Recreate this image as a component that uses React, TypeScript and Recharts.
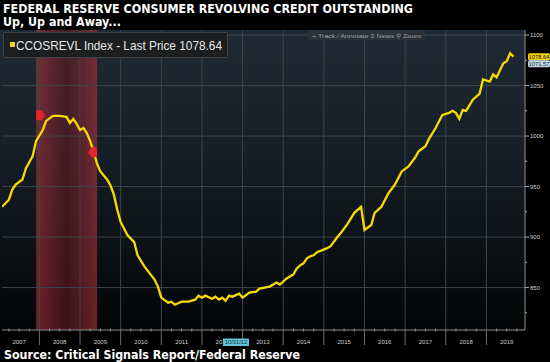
import React from 'react';
import { ComposedChart, Line, XAxis, YAxis, ReferenceLine, ReferenceArea, ReferenceDot } from 'recharts';

// monthly readings (USD bn)
const dates = [
  '2007-02', '2007-04', '2007-05', '2007-06', '2007-08', '2007-09', '2007-11', '2007-12',
  '2008-02', '2008-03', '2008-05', '2008-07', '2008-09', '2008-10', '2008-11', '2008-12',
  '2009-01', '2009-02', '2009-03', '2009-04', '2009-05', '2009-06', '2009-07', '2009-09',
  '2009-10', '2009-11', '2009-12', '2010-01', '2010-03', '2010-05', '2010-06', '2010-08',
  '2010-11', '2010-12', '2011-01', '2011-03', '2011-04', '2011-05', '2011-07', '2011-09',
  '2011-11', '2011-12', '2012-01', '2012-02', '2012-04', '2012-05', '2012-06', '2012-07',
  '2012-08', '2012-09', '2012-10', '2012-12', '2013-01', '2013-03', '2013-05', '2013-06',
  '2013-09', '2013-11', '2013-12', '2014-02', '2014-04', '2014-05', '2014-06', '2014-07',
  '2014-08', '2014-09', '2014-10', '2014-11', '2015-02', '2015-03', '2015-05', '2015-06',
  '2015-08', '2015-10', '2015-12', '2016-01', '2016-03', '2016-04', '2016-06', '2016-08',
  '2016-10', '2016-12', '2017-02', '2017-04', '2017-05', '2017-07', '2017-08', '2017-10',
  '2017-12', '2018-02', '2018-03', '2018-04', '2018-05', '2018-06', '2018-07', '2018-09',
  '2018-11', '2018-12', '2019-02', '2019-03', '2019-04', '2019-06', '2019-07', '2019-08',
  '2019-09',
];
const values = [
  930, 937, 947, 952, 957, 968, 980, 995,
  1006, 1015, 1020, 1020, 1019, 1013, 1017, 1012,
  1006, 1008, 1003, 995, 985, 973, 965, 957,
  951, 942, 927, 915, 902, 895, 882, 871,
  858, 851, 840, 835, 836, 833, 836, 836,
  838, 842, 840, 842, 839, 841, 838, 840,
  837, 842, 841, 844, 840, 845, 846, 849,
  851, 855, 853, 859, 863, 869, 872, 874,
  879, 881, 882, 885, 889, 891, 900, 904,
  913, 924, 930, 907, 912, 924, 930, 943,
  952, 965, 970, 979, 985, 990, 997, 1008,
  1021, 1023, 1025, 1023, 1017, 1026, 1025, 1036,
  1042, 1056, 1054, 1061, 1058, 1072, 1074, 1082,
  1078.64,
];

const years = [2007, 2008, 2009, 2010, 2011, 2012, 2013, 2014, 2015, 2016, 2017, 2018, 2019];
const yMajor = [850, 900, 950, 1000, 1050, 1100];
const yMinor = [825, 875, 925, 975, 1025, 1075];
const recession = [2007.92, 2009.42];
const recessionMarks = [1020.5, 984];
const lastPrice = 1078.64;
const movingAvg = 1071.57;

const toYear = (d: string) => {
  const [y, m] = d.split('-').map(Number);
  return y + (m - 1) / 12;
};

const data = dates.map((d, i) => ({ t: toYear(d), v: values[i] }));

const xTicks: number[] = [];
years.forEach(y => {
  [0, 0.25, 0.5, 0.75].forEach(q => {
    const t = y + q;
    if (t > 2007.08 && t < 2019.95) xTicks.push(t);
  });
});

const XTick = (props: any) => {
  const { x, y, payload } = props;
  const t = payload.value;
  const frac = t - Math.floor(t);
  if (frac === 0) {
    return <line x1={x} x2={x} y1={y} y2={y + 15} stroke="#6b6f73" strokeWidth={1} />;
  }
  return (
    <g>
      <line x1={x} x2={x} y1={y - 1.5} y2={y + 1.5} stroke="#8a8e92" strokeWidth={1} />
      {frac === 0.5 && (
        <text x={x} y={y + 14} textAnchor="middle" fill="#cfcfcf" fontSize={6} fontFamily="Liberation Sans, Arial, sans-serif">
          {Math.floor(t)}
        </text>
      )}
    </g>
  );
};

const YTick = (props: any) => {
  const { x, y, payload } = props;
  const major = payload.value % 50 === 0;
  return (
    <g>
      <line x1={x} x2={x + (major ? 4 : 2)} y1={y} y2={y} stroke="#a5a9ad" strokeWidth={1} />
      {major && (
        <text x={x + 5} y={y + 2} fill="#d2d2d2" fontSize={6} fontFamily="Liberation Sans, Arial, sans-serif">
          {payload.value}
        </text>
      )}
    </g>
  );
};

const FlagRight = (props: any) => {
  const { cx, cy } = props;
  return (
    <polygon points={`${cx},${cy - 5} ${cx + 5.5},${cy - 5} ${cx + 9},${cy} ${cx + 5.5},${cy + 5} ${cx},${cy + 5}`} fill="#e3262c" />
  );
};

const FlagLeft = (props: any) => {
  const { cx, cy } = props;
  return (
    <polygon points={`${cx},${cy - 5} ${cx - 5.5},${cy - 5} ${cx - 9},${cy} ${cx - 5.5},${cy + 5} ${cx},${cy + 5}`} fill="#e3262c" />
  );
};

const PriceTag = (props: any) => {
  const { cx, cy, label, bg, fg } = props;
  return (
    <g>
      <rect x={cx + 3} y={cy - 3.5} width={22} height={7} rx={1.5} fill={bg} />
      <text x={cx + 14} y={cy + 2.2} textAnchor="middle" fill={fg} fontSize={5.8} fontFamily="Liberation Sans, Arial, sans-serif">
        {label}
      </text>
    </g>
  );
};

const App: React.FC = () => {
  return (
    <div style={{ position: 'absolute', left: 0, top: 0, width: 550, height: 362, background: '#000', overflow: 'hidden' }}>
      {/* panel background */}
      <div style={{
        position: 'absolute', left: 0, top: 30, width: 525, height: 300,
        background: 'linear-gradient(#1e2a35 0%, #17212a 35%, #0d1216 70%, #030405 100%)',
      }} />
      <div style={{ position: 'absolute', left: 0, top: 0 }}>
        <ComposedChart width={550} height={362} data={data} margin={{ top: 30, right: 0, bottom: 0, left: 2 }}>
          <defs>
            <linearGradient id="recBand" x1="0" y1="0" x2="1" y2="0">
              <stop offset="0%" stopColor="#a8323a" stopOpacity={0.62} />
              <stop offset="50%" stopColor="#5c1820" stopOpacity={0.62} />
              <stop offset="100%" stopColor="#a8323a" stopOpacity={0.62} />
            </linearGradient>
          </defs>
          <XAxis
            dataKey="t"
            type="number"
            domain={[2007.08, 2019.95]}
            ticks={xTicks}
            interval={0}
            height={32}
            tickSize={0}
            tickMargin={0}
            tickLine={false}
            axisLine={{ stroke: '#8a8e92' }}
            tick={<XTick />}
            allowDataOverflow
          />
          <YAxis
            orientation="right"
            type="number"
            domain={[808, 1105]}
            ticks={[...yMinor, ...yMajor].sort((a, b) => a - b)}
            interval={0}
            width={25}
            tickSize={0}
            tickMargin={0}
            tickLine={false}
            axisLine={{ stroke: '#8a8e92' }}
            tick={<YTick />}
            allowDataOverflow
          />
          {years.filter(y => y > 2007).map(y => (
            <ReferenceLine key={'gx' + y} x={y} stroke="#3c444b" strokeWidth={1} />
          ))}
          {yMajor.map(v => (
            <ReferenceLine key={'gy' + v} y={v} stroke="#3c444b" strokeWidth={1} />
          ))}
          <ReferenceArea x1={recession[0]} x2={recession[1]} y1={808} y2={1105} fill="url(#recBand)" fillOpacity={1} stroke="none" />
          <Line type="linear" dataKey="v" stroke="#f9da00" strokeWidth={2.3} dot={false} isAnimationActive={false} />
          <ReferenceDot x={recession[0]} y={recessionMarks[0]} r={0} shape={(p: any) => <FlagRight {...p} />} />
          <ReferenceDot x={recession[1]} y={recessionMarks[1]} r={0} shape={(p: any) => <FlagLeft {...p} />} />
          <ReferenceDot x={2019.95} y={lastPrice} r={0} ifOverflow="visible"
            shape={(p: any) => <PriceTag {...p} label={lastPrice.toFixed(2)} bg="#f3d21a" fg="#111" />} />
          <ReferenceDot x={2019.95} y={movingAvg} r={0} ifOverflow="visible"
            shape={(p: any) => <PriceTag {...p} label={movingAvg.toFixed(2)} bg="#bfd7e6" fg="#1a2a36" />} />
        </ComposedChart>
      </div>

      {/* legend box */}
      <div style={{
        position: 'absolute', left: 3, top: 32, width: 225, height: 26,
        background: '#1c1e20', border: '1px solid #3d4247', borderRadius: 2, boxSizing: 'border-box',
      }} />
      <div style={{ position: 'absolute', left: 10, top: 42, width: 5, height: 5, background: '#f3d21a' }} />
      <svg width={550} height={362} style={{ position: 'absolute', left: 0, top: 0, pointerEvents: 'none' }}>
        <text x={3} y={13} fill="#fff" fontSize={12} fontWeight="bold" fontFamily="DejaVu Sans, Verdana, sans-serif"
          textLength={410} lengthAdjust="spacingAndGlyphs">
          FEDERAL RESERVE CONSUMER REVOLVING CREDIT OUTSTANDING
        </text>
        <text x={3} y={26} fill="#fff" fontSize={12} fontWeight="bold" fontFamily="DejaVu Sans, Verdana, sans-serif"
          textLength={118} lengthAdjust="spacingAndGlyphs">
          Up, Up and Away...
        </text>
        <text x={16} y={50} fill="#e6e6e6" fontSize={13} fontFamily="Liberation Sans, Arial, sans-serif"
          textLength={206} lengthAdjust="spacingAndGlyphs">
          CCOSREVL Index - Last Price 1078.64
        </text>
        {/* toolbar */}
        <rect x={308} y={30} width={117} height={10} fill="#2a3139" />
        <text x={312} y={37.5} fill="#9ba2a8" fontSize={6} fontFamily="Liberation Sans, Arial, sans-serif"
          textLength={109} lengthAdjust="spacingAndGlyphs">
          + Track   ⁄ Annotate   ≡ News   ⚲ Zoom
        </text>
        {/* crosshair date tag */}
        <rect x={223} y={338.5} width={26} height={7.5} fill="#62c3d6" />
        <text x={236} y={344.3} textAnchor="middle" fill="#10303a" fontSize={5.8} fontFamily="Liberation Sans, Arial, sans-serif">
          10/31/12
        </text>
        <text x={4} y={358.5} fill="#fff" fontSize={12} fontWeight="bold" fontFamily="DejaVu Sans, Verdana, sans-serif"
          textLength={296} lengthAdjust="spacingAndGlyphs">
          Source: Critical Signals Report/Federal Reserve
        </text>
      </svg>
    </div>
  );
};

export default App;
